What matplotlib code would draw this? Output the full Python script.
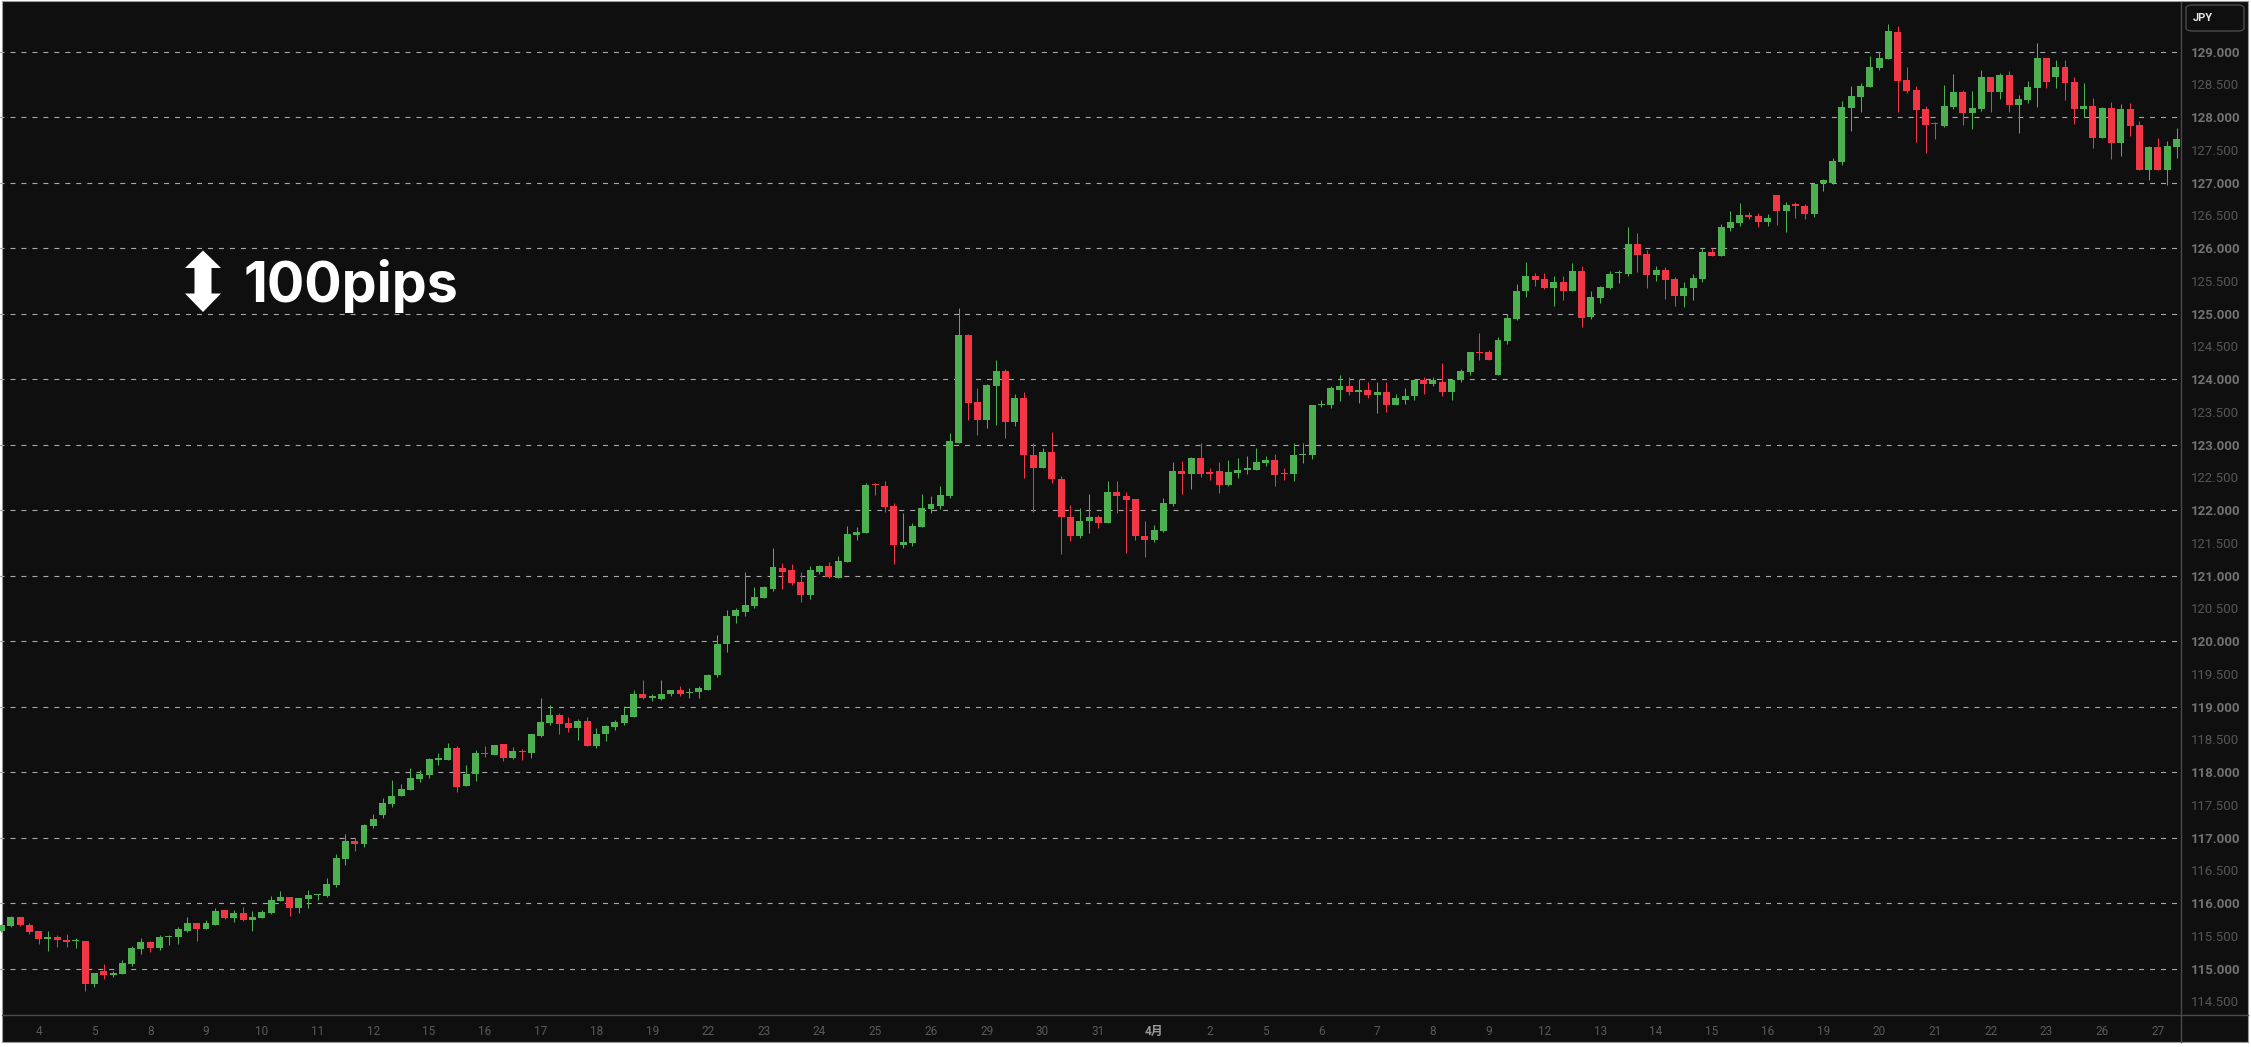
"""USD/JPY 4h candles, Mar 3 - Apr 27, dark theme with a 100pips marker."""
import matplotlib
matplotlib.use('Agg')
import matplotlib.pyplot as plt
from matplotlib.patches import Rectangle, Polygon, FancyBboxPatch
from matplotlib.lines import Line2D
import numpy as np

plt.rcParams['font.family'] = ['Roboto', 'Noto Sans CJK JP', 'DejaVu Sans']
plt.rcParams['lines.scale_dashes'] = False

# ── data: 4-hour candles ─────────────────────────────────────────────────────
opens = [
    115.58, 115.65, 115.79, 115.67, 115.57, 115.46, 115.48, 115.44, 115.42, 115.43,
    114.77, 114.97, 114.91, 114.92, 115.07, 115.30, 115.41, 115.31, 115.48, 115.49,
    115.58, 115.70, 115.60, 115.67, 115.90, 115.78, 115.85, 115.75, 115.78, 115.85,
    116.04, 116.10, 115.93, 116.07, 116.12, 116.11, 116.28, 116.68, 116.95, 116.90,
    117.18, 117.35, 117.51, 117.63, 117.73, 117.89, 117.95, 118.19, 118.18, 118.37,
    117.79, 117.97, 118.30, 118.27, 118.43, 118.21, 118.33, 118.29, 118.56, 118.75,
    118.88, 118.75, 118.67, 118.78, 118.40, 118.58, 118.69, 118.75, 118.85, 119.19,
    119.14, 119.11, 119.19, 119.26, 119.21, 119.22, 119.26, 119.48, 119.95, 120.38,
    120.45, 120.54, 120.66, 120.80, 121.12, 121.08, 120.91, 120.71, 121.06, 121.15,
    120.97, 121.21, 121.62, 121.65, 122.40, 122.37, 122.07, 121.47, 121.50, 121.75,
    122.02, 122.07, 122.22, 123.03, 124.68, 123.65, 123.37, 123.89, 124.13, 123.34,
    123.71, 122.85, 122.65, 122.89, 122.48, 121.89, 121.60, 121.84, 121.90, 121.81,
    122.28, 122.22, 122.17, 121.61, 121.54, 121.69, 122.10, 122.60, 122.55, 122.80,
    122.57, 122.60, 122.39, 122.57, 122.62, 122.62, 122.72, 122.77, 122.57, 122.55,
    122.84, 122.84, 123.60, 123.60, 123.83, 123.90, 123.81, 123.83, 123.76, 123.81,
    123.60, 123.69, 123.74, 123.99, 123.92, 123.96, 123.80, 123.99, 124.11, 124.41,
    124.41, 124.06, 124.59, 124.92, 125.34, 125.58, 125.53, 125.40, 125.49, 125.35,
    125.65, 124.95, 125.24, 125.40, 125.62, 125.61, 126.07, 125.91, 125.59, 125.67,
    125.53, 125.27, 125.40, 125.53, 125.94, 125.88, 126.31, 126.39, 126.50, 126.49,
    126.40, 126.81, 126.57, 126.67, 126.64, 126.52, 127.00, 126.99, 127.31, 128.14,
    128.31, 128.46, 128.75, 128.89, 129.30, 128.57, 128.41, 128.12, 127.91, 127.86,
    128.15, 128.38, 128.06, 128.12, 128.61, 128.38, 128.64, 128.18, 128.26, 128.44,
    128.90, 128.61, 128.77, 128.54, 128.12, 128.17, 127.69, 128.14, 127.60, 128.12,
    127.88, 127.20, 127.54, 127.20, 127.54,
]
highs = [
    115.68, 115.81, 115.79, 115.70, 115.57, 115.57, 115.51, 115.53, 115.47, 115.43,
    114.93, 115.07, 114.97, 115.13, 115.34, 115.47, 115.43, 115.52, 115.51, 115.64,
    115.79, 115.70, 115.75, 115.93, 115.90, 115.90, 115.94, 115.88, 115.90, 116.11,
    116.19, 116.10, 116.08, 116.20, 116.14, 116.39, 116.75, 117.06, 116.99, 117.21,
    117.36, 117.60, 117.88, 117.82, 118.06, 118.03, 118.21, 118.30, 118.44, 118.40,
    118.11, 118.34, 118.40, 118.42, 118.43, 118.38, 118.35, 118.59, 119.13, 119.02,
    118.91, 118.85, 118.81, 118.84, 118.67, 118.72, 118.79, 119.01, 119.25, 119.41,
    119.20, 119.40, 119.26, 119.31, 119.29, 119.31, 119.50, 120.09, 120.48, 120.50,
    121.05, 120.83, 120.85, 121.43, 121.20, 121.18, 121.06, 121.15, 121.17, 121.21,
    121.30, 121.76, 121.75, 122.42, 122.42, 122.45, 122.11, 121.96, 121.81, 122.25,
    122.22, 122.37, 123.18, 125.09, 124.69, 123.86, 123.92, 124.30, 124.16, 123.77,
    123.80, 123.03, 122.95, 123.19, 122.52, 122.08, 122.04, 122.24, 121.92, 122.45,
    122.45, 122.28, 122.17, 121.83, 121.78, 122.19, 122.74, 122.75, 122.81, 123.03,
    122.65, 122.74, 122.77, 122.80, 122.83, 122.95, 122.83, 122.86, 122.65, 123.02,
    123.02, 123.61, 123.69, 123.90, 124.07, 124.04, 124.01, 123.96, 123.95, 123.95,
    123.77, 123.86, 124.01, 124.03, 124.03, 124.25, 124.00, 124.16, 124.42, 124.70,
    124.45, 124.65, 125.00, 125.46, 125.79, 125.62, 125.62, 125.58, 125.58, 125.78,
    125.73, 125.35, 125.43, 125.65, 125.67, 126.32, 126.23, 125.97, 125.73, 125.72,
    125.56, 125.49, 125.61, 126.00, 126.00, 126.37, 126.57, 126.69, 126.55, 126.54,
    126.52, 126.81, 126.71, 126.71, 126.67, 126.99, 127.05, 127.37, 128.24, 128.47,
    128.52, 128.93, 128.99, 129.42, 129.39, 128.77, 128.47, 128.17, 127.92, 128.49,
    128.66, 128.41, 128.40, 128.72, 128.61, 128.67, 128.70, 128.34, 128.55, 129.13,
    128.90, 128.87, 128.87, 128.61, 128.52, 128.29, 128.15, 128.23, 128.20, 128.21,
    127.94, 127.56, 127.69, 127.63, 127.83,
]
lows = [
    115.56, 115.64, 115.65, 115.53, 115.38, 115.27, 115.33, 115.33, 115.31, 114.66,
    114.72, 114.84, 114.87, 114.92, 115.04, 115.22, 115.25, 115.28, 115.36, 115.37,
    115.56, 115.43, 115.60, 115.66, 115.76, 115.72, 115.73, 115.57, 115.78, 115.84,
    116.04, 115.81, 115.85, 115.93, 116.05, 116.10, 116.24, 116.58, 116.80, 116.86,
    117.15, 117.30, 117.47, 117.63, 117.73, 117.85, 117.91, 118.11, 118.18, 117.70,
    117.79, 117.86, 118.23, 118.27, 118.17, 118.20, 118.18, 118.21, 118.53, 118.72,
    118.59, 118.62, 118.49, 118.40, 118.37, 118.47, 118.65, 118.72, 118.85, 119.12,
    119.08, 119.10, 119.16, 119.17, 119.13, 119.13, 119.26, 119.45, 119.84, 120.28,
    120.39, 120.51, 120.66, 120.77, 120.80, 120.86, 120.60, 120.65, 121.03, 120.97,
    120.97, 121.21, 121.55, 121.65, 122.23, 121.97, 121.18, 121.43, 121.46, 121.75,
    121.96, 122.02, 122.19, 123.03, 123.37, 123.15, 123.25, 123.30, 123.10, 123.28,
    122.49, 121.98, 122.65, 122.42, 121.33, 121.53, 121.57, 121.65, 121.73, 121.81,
    121.96, 121.34, 121.54, 121.28, 121.52, 121.67, 122.07, 122.24, 122.33, 122.51,
    122.46, 122.27, 122.37, 122.49, 122.55, 122.62, 122.68, 122.37, 122.46, 122.45,
    122.72, 122.78, 123.57, 123.56, 123.66, 123.76, 123.63, 123.71, 123.48, 123.50,
    123.60, 123.62, 123.68, 123.77, 123.89, 123.74, 123.68, 123.95, 124.06, 124.29,
    124.29, 124.06, 124.54, 124.91, 125.26, 125.43, 125.37, 125.12, 125.21, 125.35,
    124.79, 124.92, 125.17, 125.37, 125.47, 125.58, 125.64, 125.40, 125.50, 125.23,
    125.12, 125.11, 125.21, 125.49, 125.88, 125.88, 126.26, 126.34, 126.45, 126.32,
    126.34, 126.36, 126.25, 126.46, 126.45, 126.48, 126.87, 126.98, 127.27, 127.79,
    128.08, 128.46, 128.72, 128.89, 128.08, 128.37, 127.62, 127.46, 127.66, 127.85,
    128.12, 127.88, 127.82, 128.09, 128.08, 128.28, 128.08, 127.76, 128.21, 128.15,
    128.44, 128.44, 128.26, 127.89, 128.00, 127.53, 127.69, 127.36, 127.41, 127.72,
    127.19, 127.04, 127.20, 126.96, 127.37,
]
closes = [
    115.66, 115.79, 115.66, 115.56, 115.46, 115.48, 115.44, 115.40, 115.43, 114.77,
    114.93, 114.90, 114.92, 115.08, 115.31, 115.41, 115.31, 115.49, 115.49, 115.60,
    115.70, 115.60, 115.69, 115.88, 115.78, 115.85, 115.75, 115.79, 115.87, 116.05,
    116.10, 115.93, 116.08, 116.13, 116.13, 116.29, 116.69, 116.95, 116.90, 117.19,
    117.28, 117.53, 117.63, 117.74, 117.91, 117.97, 118.20, 118.20, 118.37, 117.77,
    117.97, 118.30, 118.28, 118.41, 118.21, 118.32, 118.31, 118.58, 118.76, 118.88,
    118.73, 118.67, 118.78, 118.40, 118.59, 118.70, 118.76, 118.87, 119.19, 119.13,
    119.15, 119.19, 119.26, 119.20, 119.22, 119.28, 119.49, 119.96, 120.39, 120.47,
    120.56, 120.68, 120.82, 121.14, 121.06, 120.89, 120.71, 121.08, 121.15, 120.98,
    121.23, 121.64, 121.67, 122.39, 122.38, 122.05, 121.47, 121.52, 121.76, 122.04,
    122.10, 122.23, 123.06, 124.68, 123.63, 123.37, 123.91, 124.13, 123.34, 123.71,
    122.85, 122.65, 122.89, 122.47, 121.89, 121.60, 121.84, 121.90, 121.81, 122.28,
    122.21, 122.16, 121.60, 121.55, 121.70, 122.11, 122.60, 122.55, 122.80, 122.55,
    122.56, 122.39, 122.58, 122.62, 122.63, 122.74, 122.77, 122.54, 122.55, 122.84,
    122.85, 123.60, 123.61, 123.86, 123.90, 123.80, 123.82, 123.76, 123.81, 123.60,
    123.71, 123.75, 123.99, 123.92, 123.99, 123.80, 123.99, 124.12, 124.42, 124.40,
    124.29, 124.60, 124.94, 125.35, 125.58, 125.52, 125.40, 125.49, 125.35, 125.65,
    124.94, 125.26, 125.41, 125.61, 125.63, 126.07, 125.90, 125.59, 125.67, 125.52,
    125.27, 125.40, 125.55, 125.94, 125.88, 126.32, 126.40, 126.51, 126.48, 126.40,
    126.46, 126.57, 126.66, 126.65, 126.52, 126.98, 127.04, 127.33, 128.15, 128.32,
    128.47, 128.77, 128.90, 129.32, 128.55, 128.40, 128.11, 127.88, 127.89, 128.17,
    128.38, 128.06, 128.14, 128.61, 128.38, 128.64, 128.18, 128.28, 128.46, 128.90,
    128.54, 128.77, 128.52, 128.12, 128.17, 127.69, 128.14, 127.60, 128.12, 127.86,
    127.20, 127.54, 127.20, 127.56, 127.66,
]
day_labels = ['4', '5', '8', '9', '10', '11', '12', '15', '16', '17', '18', '19',
              '22', '23', '24', '25', '26', '29', '30', '31', '4月', '2', '5', '6',
              '7', '8', '9', '12', '13', '14', '15', '16', '19', '20', '21', '22',
              '23', '26', '27']
grid_levels = list(range(115, 130))
price_ticks = [114.5 + 0.5 * k for k in range(30)]

BG     = '#0f0f0f'
UP     = '#4caf50'
DOWN   = '#f23645'
GRID   = '#a8a8a8'
AXLINE = '#4a4a4a'

W, H = 2251, 1047
def fx(x): return x / W
def fy(y): return 1 - y / H

fig = plt.figure(figsize=(W / 100, H / 100), dpi=100, facecolor='white')

# dark panel with thin border
fig.add_artist(Rectangle((fx(1.5), fy(1042)), fx(2248) - fx(1.5), fy(1) - fy(1042),
                         transform=fig.transFigure, facecolor=BG,
                         edgecolor='#9a9a9a', linewidth=0.8, zorder=0))

ax = fig.add_axes([fx(0), fy(1015), fx(2181), fy(2) - fy(1015)])
ax.set_facecolor('none')
for s in ax.spines.values():
    s.set_visible(False)

o = np.array(opens); h = np.array(highs); l = np.array(lows); c = np.array(closes)
idx = np.arange(len(o))
up = c >= o
cols = np.where(up, UP, DOWN)
body_lo = np.minimum(o, c)
body_h = np.maximum(np.abs(c - o), 0.02)

# grid (integer levels only)
ax.hlines(grid_levels, -1, len(o) + 1, colors=GRID, linewidth=0.8,
          linestyles=[(0, (3.6, 4.3))], zorder=1)

ax.vlines(idx, l, h, colors=cols, linewidth=0.75, zorder=2)
ax.bar(idx, body_h, bottom=body_lo, width=0.75, color=cols, linewidth=0, zorder=3)

ax.set_xlim(-0.161, 234.48)
ax.set_ylim(114.293, 129.759)

# y axis on the right
ax.yaxis.tick_right()
ax.set_yticks(price_ticks)
ax.set_yticklabels([f'{p:.3f}' for p in price_ticks])
ax.tick_params(axis='y', length=0, pad=7.2, labelsize=9.5)
for p, t in zip(price_ticks, ax.get_yticklabels()):
    if float(p).is_integer():
        t.set_color('#727272'); t.set_fontweight('bold')
    else:
        t.set_color('#565656')

# x axis: one label per trading day, 6 candles per day
ax.set_xticks([4 + 6 * k for k in range(len(day_labels))])
ax.set_xticklabels(day_labels)
ax.tick_params(axis='x', length=0, pad=7, labelsize=8.5, colors='#5a5a5a')
for t in ax.get_xticklabels():
    if '月' in t.get_text():
        t.set_color('#9a9a9a'); t.set_fontweight('bold')

# axis separators
fig.add_artist(Line2D([fx(2181), fx(2181)], [fy(1.5), fy(1042)], color=AXLINE,
                      linewidth=1, transform=fig.transFigure))
fig.add_artist(Line2D([fx(2), fx(2248)], [fy(1015), fy(1015)], color=AXLINE,
                      linewidth=1, transform=fig.transFigure))

# currency badge
fig.add_artist(FancyBboxPatch((fx(2186), fy(31)), fx(2244) - fx(2186), fy(5) - fy(31),
                              boxstyle='round,pad=0,rounding_size=0.003',
                              transform=fig.transFigure, facecolor=BG,
                              edgecolor='#4a4a4a', linewidth=1))
fig.text(fx(2193), fy(18), 'JPY', ha='left', va='center', fontsize=8,
         color='#e6e6e6', fontweight='bold')

# 100pips marker
arrow_px = [(203, 250.5), (221, 268), (211.5, 268), (211.5, 293.5), (221, 293.5),
            (203, 312), (185, 293.5), (194.5, 293.5), (194.5, 268), (185, 268)]
fig.add_artist(Polygon([(fx(x), fy(y)) for x, y in arrow_px], closed=True,
                       transform=fig.transFigure, facecolor='white', edgecolor='none'))
fig.text(fx(243), fy(302), '100pips', ha='left', va='baseline', fontsize=40,
         color='white', fontweight='bold', family=['Inter', 'DejaVu Sans'])

plt.savefig('out.png', dpi=100, facecolor='white')
print('saved out.png')
